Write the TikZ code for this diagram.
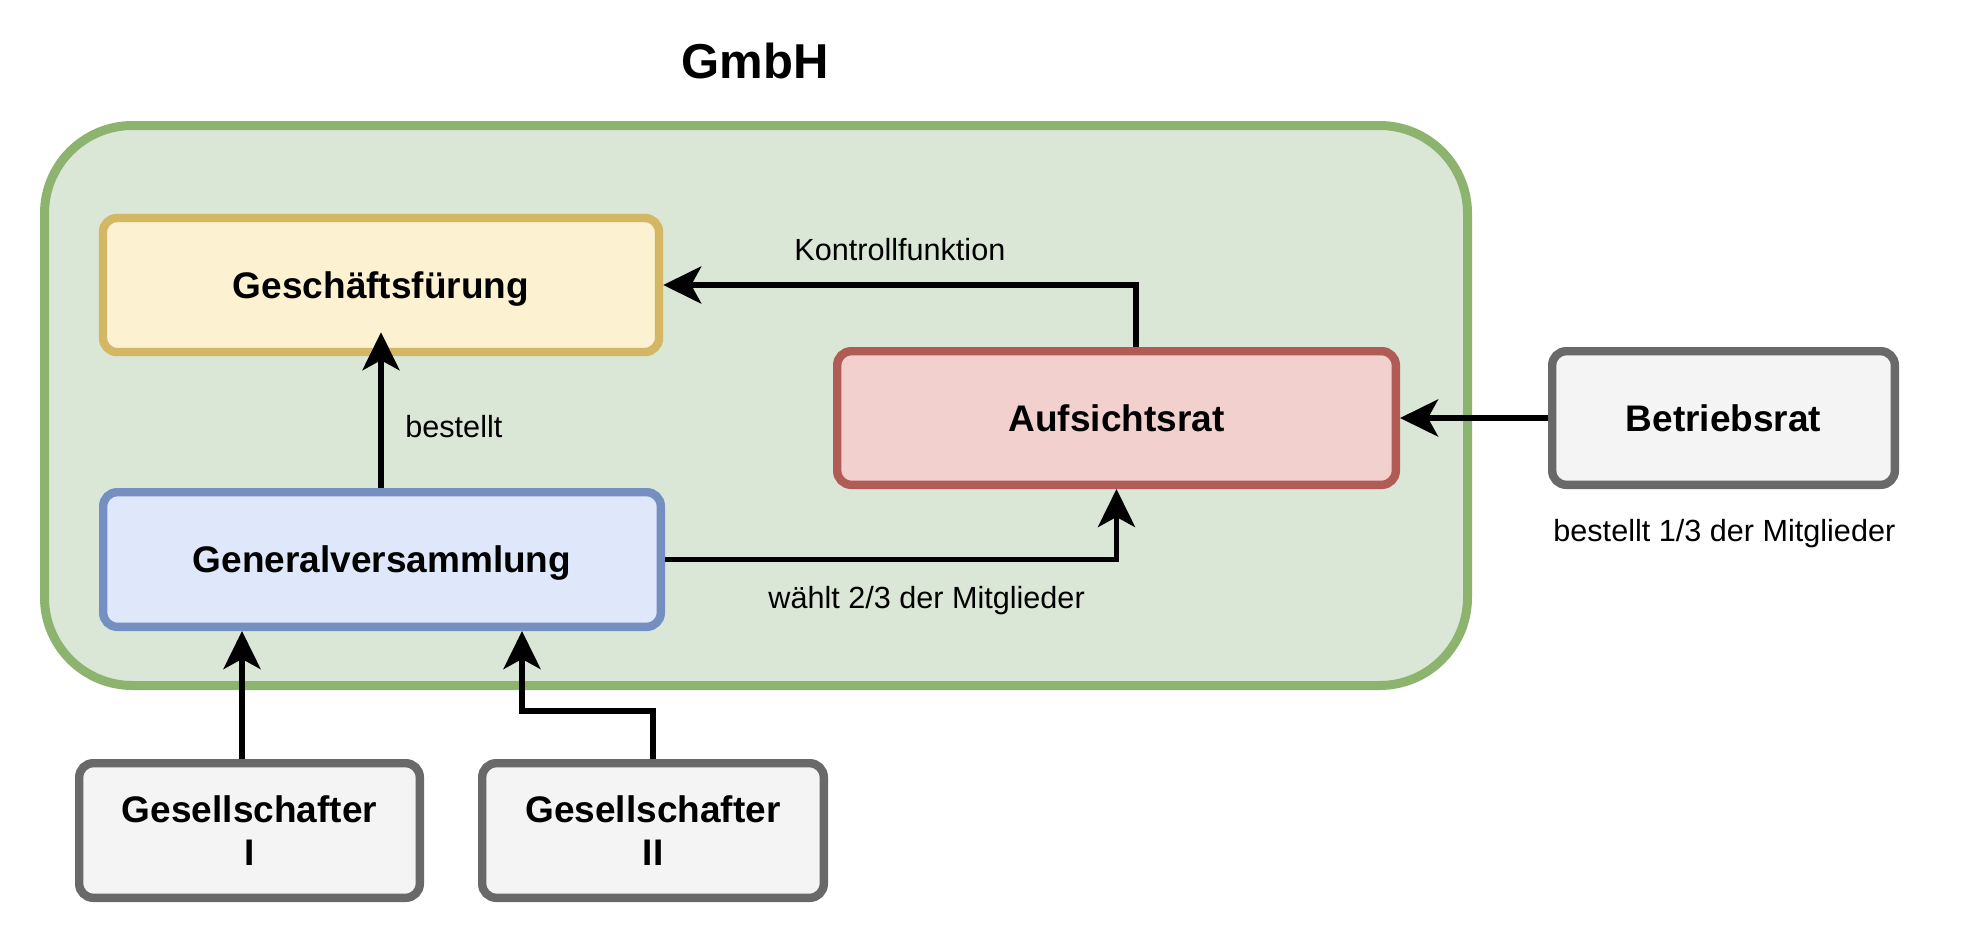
\documentclass[tikz,border=0pt]{standalone}
\usepackage{fontspec}
\setmainfont{Liberation Sans}
\usetikzlibrary{arrows.meta,calc}
\definecolor{gfill}{HTML}{DAE7D6}
\definecolor{gline}{HTML}{8CB46F}
\definecolor{yfill}{HTML}{FCF1D0}
\definecolor{yline}{HTML}{D4B765}
\definecolor{bfill}{HTML}{DEE8FA}
\definecolor{bline}{HTML}{7590C0}
\definecolor{rfill}{HTML}{F2D0CE}
\definecolor{rline}{HTML}{B05B55}
\definecolor{wfill}{HTML}{F4F4F4}
\definecolor{wline}{HTML}{696969}
\begin{document}
\begin{tikzpicture}[x=0.5pt,y=-0.5pt,
  box/.style={draw, line width=4.2pt, rounded corners=7pt, inner sep=0pt, align=center,
    text depth=0pt, font=\bfseries\fontsize{18.5}{21.5}\selectfont},
  lbl/.style={font=\fontsize{15.3}{18}\selectfont, inner sep=0pt},
  arr/.style={line width=2.8pt, -{Stealth[length=19pt,width=18.5pt,inset=5pt]}}]
\useasboundingbox (0,0) rectangle (1964,948);
\draw[fill=gfill, draw=gline, line width=4.5pt, rounded corners=44pt] (44.5,125.5) rectangle (1467.5,685.5);
\node[font=\bfseries\fontsize{24.5}{28}\selectfont, anchor=base, inner sep=0pt] (title) at (755,78) {GmbH};
\node[box, fill=yfill, draw=yline, minimum width=278pt, minimum height=67pt] (gf) at (381,285) {Geschäftsfürung};
\node[box, fill=bfill, draw=bline, minimum width=278.8pt, minimum height=67.3pt] (gv) at (382,559.5) {Generalversammlung};
\node[box, fill=rfill, draw=rline, minimum width=279.3pt, minimum height=66.8pt] (au) at (1116.5,418) {Aufsichtsrat};
\node[box, fill=wfill, draw=wline, minimum width=171.3pt, minimum height=66.8pt] (br) at (1723.5,418) {Betriebsrat};
\node[box, fill=wfill, draw=wline, minimum width=170.3pt, minimum height=67.3pt] (g1) at (249.5,830.5) {Gesellschafter\\I};
\node[box, fill=wfill, draw=wline, minimum width=170.8pt, minimum height=67.3pt] (g2) at (653,830.5) {Gesellschafter\\II};
\coordinate (kx) at (1136,0);
\coordinate (c1) at (242,0);
\coordinate (c2) at (522,711);
\coordinate (c0) at (381,0);
\draw[arr, shorten >=-12pt] (gv.north -| c0) -- (gf.south -| c0);
\draw[arr] (au.north -| kx) |- (gf.east);
\draw[arr] (gv.east) -| (au.south);
\draw[arr] (br.west) -- (au.east);
\draw[arr] (g1.north -| c1) -- (gv.south -| c1);
\draw[arr] (g2.north) |- (c2) -- (gv.south -| c2);
\node[lbl, anchor=base west] (l1) at (405,437) {bestellt};
\node[lbl, anchor=base west] (l2) at (794,260) {Kontrollfunktion};
\node[lbl, anchor=base west] (l3) at (768,608) {wählt 2/3 der Mitglieder};
\node[lbl, anchor=base west] (l4) at (1553,541) {bestellt 1/3 der Mitglieder};
\end{tikzpicture}
\end{document}
